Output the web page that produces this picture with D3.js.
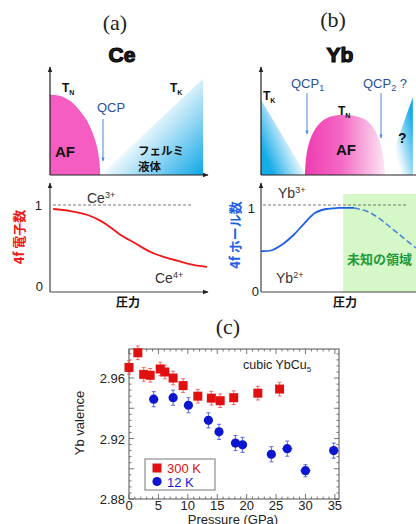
<!DOCTYPE html>
<html><head><meta charset="utf-8">
<script src="https://cdn.jsdelivr.net/npm/d3@7/dist/d3.min.js"></script>
<style>body{margin:0;background:#fff}svg{display:block}</style>
</head><body>
<script>
// ---------- data ----------
// schematic (a) Ce : normalized pressure 0..1, temperature 0..1
const ceAF = [[0,0.75],[0.06,0.74],[0.12,0.70],[0.18,0.62],[0.23,0.52],[0.27,0.40],[0.30,0.26],[0.315,0.12],[0.32,0]];
const ceFL = [[0.32,0],[0.975,0.9],[0.975,0]];
// schematic (b) Yb
const ybAF = [[0.284,0],[0.29,0.15],[0.31,0.30],[0.35,0.43],[0.41,0.52],[0.48,0.555],[0.54,0.56],[0.61,0.55],[0.67,0.52],[0.73,0.43],[0.77,0.30],[0.79,0.15],[0.80,0]];
const ybFL1 = [[0,0.70],[0,0],[0.29,0]];
const ybFL2 = [[0.80,0],[0.98,0.73],[0.98,0]];
// 4f electron number (Ce) vs pressure
const ceP = [0.02,0.13,0.24,0.32,0.38,0.45,0.54,0.64,0.73,0.83,0.92,1.0];
const ceN = [0.954,0.93,0.885,0.82,0.75,0.655,0.563,0.46,0.40,0.35,0.31,0.29];
// 4f hole number (Yb) vs pressure
const ybP = [0,0.07,0.14,0.21,0.28,0.35,0.42,0.5,0.6];
const ybN = [0.47,0.48,0.55,0.655,0.79,0.91,0.954,0.966,0.966];
const ybPd = [0.6,0.68,0.76,0.84,0.92,1.0];
const ybNd = [0.966,0.93,0.85,0.736,0.62,0.506];
// (c) cubic YbCu5
const p300 = [0,1.5,2.5,3.6,5.3,6.1,7.5,9.2,11.7,14.0,15.5,17.8,21.9,25.6];
const v300 = [2.967,2.9767,2.9624,2.9618,2.966,2.964,2.960,2.955,2.948,2.9467,2.945,2.947,2.950,2.9527];
const e300 = [0.0045,0.0045,0.0045,0.0045,0.0045,0.0045,0.0045,0.0045,0.0045,0.0045,0.0045,0.0045,0.0045,0.0045];
const p12 = [4.2,7.5,10.1,13.5,15.3,18.1,19.3,24.2,26.9,30.0,34.8];
const v12 = [2.946,2.947,2.942,2.932,2.9244,2.917,2.9158,2.9096,2.9133,2.8987,2.912];
const e12 = [0.005,0.005,0.005,0.005,0.005,0.005,0.005,0.005,0.005,0.004,0.005];
const x12err = [0,0,0,0,0,0,0,0,0.9,0.9,0.8];
const xTicks = [0,5,10,15,20,25,30,35];
const yTicks = [2.88,2.92,2.96];

// ---------- drawing ----------
const W=416,H=524;
const svg=d3.select("body").append("svg").attr("width",W).attr("height",H);
const defs=svg.append("defs");
const SANS="'Liberation Sans', Arial, sans-serif";
const JP="'Noto Sans CJK JP', sans-serif";
const SERIF="'Liberation Serif', 'DejaVu Serif', serif";

function lg(id, x1,y1,x2,y2, stops){
  const g=defs.append("linearGradient").attr("id",id).attr("gradientUnits","userSpaceOnUse")
    .attr("x1",x1).attr("y1",y1).attr("x2",x2).attr("y2",y2);
  stops.forEach(s=>g.append("stop").attr("offset",s[0]).attr("stop-color",s[1]));
}
lg("gA",146,122,203,175,[[0,"#ffffff"],[0.1,"#e2f4fc"],[0.5,"#86d2f2"],[1,"#0ea6e6"]]);
lg("gB1",292,132,261,145,[[0,"#ffffff"],[0.2,"#d8f1fb"],[1,"#18ace8"]]);
lg("gB2",390,132,414,126,[[0,"#ffffff"],[0.2,"#d8f1fb"],[1,"#18ace8"]]);
lg("gPk",305,0,385,0,[[0,"#ee3cb0"],[0.45,"#f368c4"],[1,"#fde6f3"]]);

const mk=defs.append("marker").attr("id","arr").attr("viewBox","0 0 10 10").attr("refX",9).attr("refY",5)
  .attr("markerWidth",5).attr("markerHeight",5).attr("orient","auto");
mk.append("path").attr("d","M0,1L10,5L0,9Z").attr("fill","#222");
const mk2=defs.append("marker").attr("id","arrb").attr("viewBox","0 0 10 10").attr("refX",9).attr("refY",5)
  .attr("markerWidth",4).attr("markerHeight",4).attr("orient","auto");
mk2.append("path").attr("d","M0,1L10,5L0,9Z").attr("fill","#4a8ad8");

function txt(x,y,s,opt={}){
  return svg.append("text").attr("x",x).attr("y",y).text(s)
    .attr("font-family",opt.f||SANS).attr("font-size",opt.s||13)
    .attr("font-weight",opt.w||"normal").attr("fill",opt.c||"#222")
    .attr("text-anchor",opt.a||"start");
}
function sub(x,y,main,sb,opt={}, sup=false){
  const t=svg.append("text").attr("x",x).attr("y",y)
    .attr("font-family",opt.f||SANS).attr("font-size",opt.s||13)
    .attr("font-weight",opt.w||"normal").attr("fill",opt.c||"#222").attr("text-anchor",opt.a||"start");
  t.append("tspan").text(main);
  t.append("tspan").text(sb).attr("font-size",(opt.ss||9)).attr("dy",sup?-5:3);
  if(opt.tail){t.append("tspan").text(opt.tail).attr("dy",sup?5:-3);}
  return t;
}

// titles
txt(115,30,"(a)",{f:SERIF,s:22,a:"middle"});
txt(333,27,"(b)",{f:SERIF,s:22,a:"middle"});
txt(122,62,"Ce",{s:21,w:"bold",a:"middle"}).attr("stroke","#000").attr("stroke-width",1.1);
txt(340,62,"Yb",{s:21,w:"bold",a:"middle"}).attr("stroke","#000").attr("stroke-width",1.1);

// ---- phase diagram (a)
const xa=d3.scaleLinear().domain([0,1]).range([50,207]);
const ya=d3.scaleLinear().domain([0,1]).range([175,68]);
const areaLine=(xs,ys,c)=>d3.line().x(d=>xs(d[0])).y(d=>ys(d[1])).curve(c||d3.curveLinear);
svg.append("path").attr("d",areaLine(xa,ya)(ceFL)+"Z").attr("fill","url(#gA)");
svg.append("path").attr("d",areaLine(xa,ya,d3.curveCatmullRom)(ceAF)+"L"+xa(0)+","+ya(0)+"Z").attr("fill","#f65dc2");
svg.append("line").attr("x1",50).attr("y1",175).attr("x2",50).attr("y2",67).attr("stroke","#222").attr("stroke-width",1.2).attr("marker-end","url(#arr)");
svg.append("line").attr("x1",50).attr("y1",175).attr("x2",208).attr("y2",175).attr("stroke","#222").attr("stroke-width",1.2).attr("marker-end","url(#arr)");
sub(62,92,"T","N",{s:12,w:"bold",ss:7,c:"#111"});
sub(170,92,"T","K",{s:12,w:"bold",ss:7,c:"#111"});
txt(97,112,"QCP",{s:13,c:"#2b4f9e"});
svg.append("line").attr("x1",103).attr("y1",119).attr("x2",103).attr("y2",161).attr("stroke","#4a8ad8").attr("stroke-width",1).attr("marker-end","url(#arrb)");
txt(55,157,"AF",{s:15,w:"bold",c:"#111"});
txt(138,155,"フェルミ",{f:JP,s:11.5,w:"bold",c:"#111"});
txt(138,171,"液体",{f:JP,s:11.5,w:"bold",c:"#111"});

// ---- phase diagram (b)
const xb=d3.scaleLinear().domain([0,1]).range([261,416]);
const yb=d3.scaleLinear().domain([0,1]).range([175,68]);
svg.append("path").attr("d",areaLine(xb,yb)(ybFL1)+"Z").attr("fill","url(#gB1)");
svg.append("path").attr("d",areaLine(xb,yb)(ybFL2)+"Z").attr("fill","url(#gB2)");
svg.append("path").attr("d",areaLine(xb,yb,d3.curveCatmullRom)(ybAF)+"Z").attr("fill","url(#gPk)");
svg.append("line").attr("x1",261).attr("y1",175).attr("x2",261).attr("y2",67).attr("stroke","#222").attr("stroke-width",1.2).attr("marker-end","url(#arr)");
svg.append("line").attr("x1",261).attr("y1",175).attr("x2",416).attr("y2",175).attr("stroke","#222").attr("stroke-width",1.2);
sub(263,100,"T","K",{s:12,w:"bold",ss:7,c:"#111"});
sub(291,88,"QCP","1",{s:13,c:"#2b4f9e",ss:9});
svg.append("line").attr("x1",307).attr("y1",93).attr("x2",307).attr("y2",134).attr("stroke","#4a8ad8").attr("stroke-width",1).attr("marker-end","url(#arrb)");
sub(363,88,"QCP","2",{s:13,c:"#2b4f9e",ss:9,tail:" ?"});
svg.append("line").attr("x1",381).attr("y1",93).attr("x2",381).attr("y2",138).attr("stroke","#4a8ad8").attr("stroke-width",1).attr("marker-end","url(#arrb)");
sub(338,115,"T","N",{s:12,w:"bold",ss:7,c:"#111"});
txt(336,155,"AF",{s:15,w:"bold",c:"#111"});
txt(398,143,"?",{s:14,w:"bold",c:"#111"});

// ---- valence schematic (a)
const xla=d3.scaleLinear().domain([0,1]).range([50,207]);
const yl=d3.scaleLinear().domain([0,1]).range([292,205]);
svg.append("line").attr("x1",53).attr("x2",193).attr("y1",yl(1)).attr("y2",yl(1)).attr("stroke","#555").attr("stroke-width",0.8).attr("stroke-dasharray","3,2");
svg.append("path").datum(d3.zip(ceP,ceN)).attr("d",d3.line().x(d=>xla(d[0])).y(d=>yl(d[1])).curve(d3.curveCatmullRom))
  .attr("fill","none").attr("stroke","#f01818").attr("stroke-width",1.8);
svg.append("line").attr("x1",50).attr("y1",292).attr("x2",50).attr("y2",183).attr("stroke","#444").attr("stroke-width",1.2).attr("marker-end","url(#arr)");
svg.append("line").attr("x1",50).attr("y1",292).attr("x2",208).attr("y2",292).attr("stroke","#444").attr("stroke-width",1.2).attr("marker-end","url(#arr)");
txt(42,yl(1)+5,"1",{s:13,a:"end"});
txt(43,yl(0)-1,"0",{s:13,a:"end"});
sub(87,203,"Ce","3+",{s:14,ss:9,c:"#333"},true);
sub(155,283,"Ce","4+",{s:14,ss:9,c:"#333"},true);
txt(0,0,"4f 電子数",{f:JP,s:13,w:"bold",c:"#f01818",a:"middle"}).attr("transform","translate(24,237) rotate(-90)");
txt(128,307,"圧力",{f:JP,s:12,w:"bold",a:"middle",c:"#111"});

// ---- valence schematic (b)
const xlb=d3.scaleLinear().domain([0,1]).range([261,416]);
svg.append("rect").attr("x",xlb(0.53)).attr("y",194).attr("width",xlb(1)-xlb(0.53)).attr("height",292-194).attr("fill","#d6f8c8");
svg.append("line").attr("x1",263).attr("x2",407).attr("y1",yl(1)).attr("y2",yl(1)).attr("stroke","#555").attr("stroke-width",0.8).attr("stroke-dasharray","3,2");
svg.append("path").datum(d3.zip(ybP,ybN)).attr("d",d3.line().x(d=>xlb(d[0])).y(d=>yl(d[1])).curve(d3.curveCatmullRom))
  .attr("fill","none").attr("stroke","#1f5fe6").attr("stroke-width",1.8);
svg.append("path").datum(d3.zip(ybPd,ybNd)).attr("d",d3.line().x(d=>xlb(d[0])).y(d=>yl(d[1])).curve(d3.curveCatmullRom))
  .attr("fill","none").attr("stroke","#4a84da").attr("stroke-width",1.6).attr("stroke-dasharray","6,3");
svg.append("line").attr("x1",261).attr("y1",292).attr("x2",261).attr("y2",183).attr("stroke","#444").attr("stroke-width",1.2).attr("marker-end","url(#arr)");
svg.append("line").attr("x1",261).attr("y1",292).attr("x2",416).attr("y2",292).attr("stroke","#444").attr("stroke-width",1.2);
txt(255,213,"1",{s:13,a:"end"});
txt(259,296,"0",{s:13,a:"end"});
sub(278,198,"Yb","3+",{s:14,ss:9,c:"#333"},true);
sub(276,283,"Yb","2+",{s:14,ss:9,c:"#333"},true);
txt(347,264,"未知の領域",{f:JP,s:13,w:"bold",c:"#1c9a3c"});
txt(0,0,"4f ホール数",{f:JP,s:13,w:"bold",c:"#1f5fe6",a:"middle"}).attr("transform","translate(240,235) rotate(-90)");
txt(345,307,"圧力",{f:JP,s:12,w:"bold",a:"middle",c:"#111"});

// ---- panel (c)
txt(228,334,"(c)",{f:SERIF,s:22,a:"middle"});
const xc=d3.scaleLinear().domain([0,35.7]).range([129,339]);
const yc=d3.scaleLinear().domain([2.88,2.9792]).range([499,349]);
const fr=svg.append("g");
fr.append("rect").attr("x",129).attr("y",349).attr("width",210).attr("height",150).attr("fill","none").attr("stroke","#555").attr("stroke-width",1);
// ticks
const xMin=d3.range(0,36,1), yMin=d3.range(2.88,2.9792,0.004);
const tk=svg.append("g").attr("stroke","#555").attr("stroke-width",0.8);
xMin.forEach(v=>{const maj=v%5===0, L=maj?5:2.5;
  tk.append("line").attr("x1",xc(v)).attr("x2",xc(v)).attr("y1",499).attr("y2",499-L);
  tk.append("line").attr("x1",xc(v)).attr("x2",xc(v)).attr("y1",349).attr("y2",349+L);});
yMin.forEach((v,i)=>{const maj=i%5===0, L=maj?5:2.5;
  tk.append("line").attr("y1",yc(v)).attr("y2",yc(v)).attr("x1",129).attr("x2",129+L);
  tk.append("line").attr("y1",yc(v)).attr("y2",yc(v)).attr("x1",339).attr("x2",339-L);});
xTicks.forEach(v=>txt(xc(v),510,String(v),{s:13,a:"middle",c:"#222"}));
yTicks.forEach(v=>txt(125,yc(v)+5,v.toFixed(2),{s:13,a:"end",c:"#222"}));
txt(0,0,"Yb valence",{s:13,a:"middle",c:"#222"}).attr("transform","translate(84,423) rotate(-90)");
txt(233,524,"Pressure (GPa)",{s:13,a:"middle",c:"#222"});
sub(243,369,"cubic YbCu","5",{s:12.5,ss:8,c:"#222"});

// error bars
function ebars(ps,vs,es,color,xe){
  const g=svg.append("g").attr("stroke",color).attr("stroke-width",0.9);
  ps.forEach((p,i)=>{const x=xc(p),y1=yc(vs[i]-es[i]),y2=yc(vs[i]+es[i]);
    g.append("line").attr("x1",x).attr("x2",x).attr("y1",y1).attr("y2",y2);
    g.append("line").attr("x1",x-2).attr("x2",x+2).attr("y1",y1).attr("y2",y1);
    g.append("line").attr("x1",x-2).attr("x2",x+2).attr("y1",y2).attr("y2",y2);
    if(xe&&xe[i]>0){const xa1=xc(p-xe[i]),xa2=xc(p+xe[i]),y=yc(vs[i]);
      g.append("line").attr("x1",xa1).attr("x2",xa2).attr("y1",y).attr("y2",y);}
  });
}
ebars(p300,v300,e300,"#f05a5a");
ebars(p12,v12,e12,"#4a5ae8",x12err);
svg.append("g").selectAll("rect").data(d3.zip(p300,v300)).join("rect")
  .attr("x",d=>xc(d[0])-4.5).attr("y",d=>yc(d[1])-4.5).attr("width",9).attr("height",9).attr("fill","#e01010");
svg.append("g").selectAll("circle").data(d3.zip(p12,v12)).join("circle")
  .attr("cx",d=>xc(d[0])).attr("cy",d=>yc(d[1])).attr("r",4.6).attr("fill","#0c16d0");
// legend
svg.append("rect").attr("x",145).attr("y",459).attr("width",70).attr("height",31).attr("fill","#fff").attr("stroke","#777").attr("stroke-width",1);
svg.append("rect").attr("x",152.5).attr("y",463.5).attr("width",9).attr("height",9).attr("fill","#e01010");
svg.append("circle").attr("cx",157).attr("cy",481.5).attr("r",4.6).attr("fill","#0c16d0");
txt(167,473,"300 K",{s:13,c:"#e01010"});
txt(167,486.5,"12 K",{s:13,c:"#1420d8"});
</script>
</body></html>
